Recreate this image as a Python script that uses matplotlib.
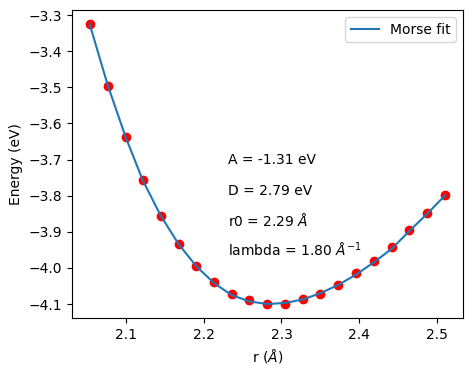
import matplotlib
matplotlib.use("Agg")
import matplotlib.pyplot as plt

r_vals = [2.054, 2.077, 2.100, 2.122, 2.145, 2.168, 2.191, 2.214, 2.236, 2.259,
          2.282, 2.305, 2.328, 2.350, 2.373, 2.396, 2.419, 2.442, 2.464, 2.487, 2.510]
energy = [-3.325, -3.495, -3.638, -3.757, -3.857, -3.935, -3.996, -4.040, -4.073, -4.090,
          -4.099, -4.099, -4.087, -4.071, -4.046, -4.015, -3.980, -3.942, -3.896, -3.848, -3.799]
fit_energy = [-3.325, -3.493, -3.637, -3.757, -3.855, -3.934, -3.996, -4.043, -4.075, -4.093,
              -4.100, -4.097, -4.087, -4.070, -4.047, -4.018, -3.984, -3.946, -3.898, -3.850, -3.799]
param_texts = ["A = -1.31 eV", "D = 2.79 eV", "r0 = 2.29 $\\AA$", "lambda = 1.80 $\\AA^{-1}$"]
param_ypos = [0.5, 0.4, 0.3, 0.2]

fig = plt.figure(figsize=(4.7, 3.75), dpi=100)
ax = fig.add_axes([0.153, 0.152, 0.832, 0.821])
ax.scatter(r_vals, energy, color="red")
ax.plot(r_vals, fit_energy, label="Morse fit")
for t, yp in zip(param_texts, param_ypos):
    ax.text(0.4, yp, t, transform=ax.transAxes)
ax.set_xlabel("r ($\\AA$)")
ax.set_ylabel("Energy (eV)")
ax.legend(loc="upper right")
fig.savefig("out.png", dpi=100)
